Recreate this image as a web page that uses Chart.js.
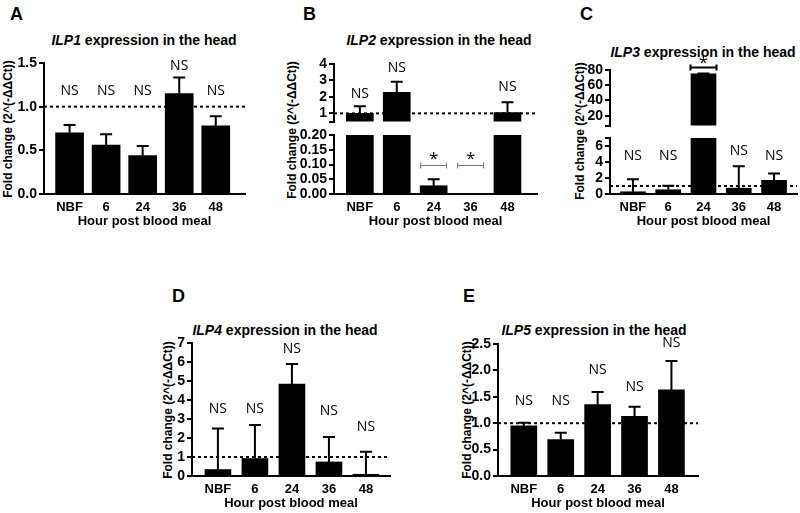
<!DOCTYPE html>
<html>
<head>
<meta charset="utf-8">
<script src="https://cdn.jsdelivr.net/npm/chart.js@4.4.1/dist/chart.umd.min.js"></script>
<style>
  body { margin: 0; background: #fff; }
  #fig { position: relative; width: 800px; height: 513px; overflow: hidden; background: #fff;
         font-family: "Liberation Sans", Arial, sans-serif; color: #000; }
  canvas { position: absolute; }
  .letter { position: absolute; font-size: 18px; font-weight: bold; line-height: 20px; }
  .ttl { position: absolute; width: 300px; text-align: center; font-size: 14px; font-weight: bold;
         line-height: 16px; white-space: nowrap; }
  .ytl { position: absolute; width: 200px; height: 14px; text-align: center; font-size: 12px;
         font-weight: bold; line-height: 14px; white-space: nowrap; transform: rotate(-90deg); }
</style>
</head>
<body>
<div id="fig">
  <div class="letter" style="left:10px;top:4px">A</div>
  <div class="letter" style="left:303px;top:4px">B</div>
  <div class="letter" style="left:580px;top:4px">C</div>
  <div class="letter" style="left:172px;top:286px">D</div>
  <div class="letter" style="left:463px;top:286px">E</div>

  <div class="ttl" style="left:-6px;top:32px"><i>ILP1</i> expression in the head</div>
  <div class="ttl" style="left:289px;top:32px"><i>ILP2</i> expression in the head</div>
  <div class="ttl" style="left:553px;top:44px"><i>ILP3</i> expression in the head</div>
  <div class="ttl" style="left:135px;top:322px"><i>ILP4</i> expression in the head</div>
  <div class="ttl" style="left:444px;top:322px"><i>ILP5</i> expression in the head</div>

  <div class="ytl" style="left:-92px;top:122px">Fold change (2^(-ΔΔCt))</div>
  <div class="ytl" style="left:192px;top:123px">Fold change (2^(-ΔΔCt))</div>
  <div class="ytl" style="left:480px;top:124px">Fold change (2^(-ΔΔCt))</div>
  <div class="ytl" style="left:68px;top:403px">Fold change (2^(-ΔΔCt))</div>
  <div class="ytl" style="left:367px;top:403px">Fold change (2^(-ΔΔCt))</div>

  <canvas id="cA"></canvas>
  <canvas id="cBtop"></canvas>
  <canvas id="cBbot"></canvas>
  <canvas id="cCtop"></canvas>
  <canvas id="cCbot"></canvas>
  <canvas id="cD"></canvas>
  <canvas id="cE"></canvas>
</div>

<script>
Chart.defaults.font.family = '"Liberation Sans", Arial, sans-serif';
Chart.defaults.color = '#000';

// Hours post blood meal
const hours = ['NBF', '6', '24', '36', '48'];

// ILP1
const ilp1Mean = [0.70, 0.56, 0.44, 1.15, 0.78];
const ilp1Sem = [0.09, 0.125, 0.11, 0.185, 0.11];
const ilp1Sig = ['NS', 'NS', 'NS', 'NS', 'NS'];
const ilp1SigY = [1.175, 1.175, 1.175, 1.46, 1.175];
const ilp1Ticks = [0, 0.5, 1, 1.5];
const ilp1TickLabels = ['0.0', '0.5', '1.0', '1.5'];

// ILP2 (broken axis)
const ilp2Mean = [1.0, 2.28, 0.028, 0, 1.05];
const ilp2Sem = [0.44, 0.64, 0.022, 0, 0.62];
const ilp2SigTop = ['NS', 'NS', '', '', 'NS'];
const ilp2SigTopY = [2.17, 3.77, 0, 0, 2.63];
const ilp2SigBot = ['', '', '*', '*', ''];
const ilp2SigBotY = [0, 0, 0.128, 0.128, 0];
const ilp2Brackets = [2, 3];
const ilp2BracketY = 0.098;
const ilp2TicksTop = [0.5, 1, 2, 3, 4];
const ilp2TickLabelsTop = ['', '1', '2', '3', '4'];
const ilp2TicksBot = [0, 0.05, 0.1, 0.15, 0.2];
const ilp2TickLabelsBot = ['0.00', '0.05', '0.10', '0.15', '0.20'];

// ILP3 (broken axis)
const ilp3Mean = [0.28, 0.53, 75, 0.73, 1.71];
const ilp3Sem = [1.56, 0.49, 0.4, 2.73, 0.86];
const ilp3SigTop = ['', '', '*', '', ''];
const ilp3SigTopY = [0, 0, 93.5, 0, 0];
const ilp3Brackets = [2];
const ilp3BracketY = 84.2;
const ilp3SigBot = ['NS', 'NS', '', 'NS', 'NS'];
const ilp3SigBotY = [4.7, 4.7, 0, 5.4, 4.77];
const ilp3TicksTop = [7, 20, 40, 60, 80];
const ilp3TickLabelsTop = ['', '20', '40', '60', '80'];
const ilp3TicksBot = [0, 2, 4, 6, 7];
const ilp3TickLabelsBot = ['0', '2', '4', '6', ''];

// ILP4
const ilp4Mean = [0.34, 0.92, 4.84, 0.74, 0.09];
const ilp4Sem = [2.16, 1.76, 1.06, 1.31, 1.18];
const ilp4Sig = ['NS', 'NS', 'NS', 'NS', 'NS'];
const ilp4SigY = [3.53, 3.53, 6.69, 3.44, 2.59];
const ilp4Ticks = [0, 1, 2, 3, 4, 5, 6, 7];
const ilp4TickLabels = ['0', '1', '2', '3', '4', '5', '6', '7'];

// ILP5
const ilp5Mean = [0.95, 0.69, 1.355, 1.13, 1.63];
const ilp5Sem = [0.06, 0.13, 0.235, 0.18, 0.55];
const ilp5Sig = ['NS', 'NS', 'NS', 'NS', 'NS'];
const ilp5SigY = [1.42, 1.42, 2.0, 1.69, 2.52];
const ilp5Ticks = [0, 0.5, 1, 1.5, 2, 2.5];
const ilp5TickLabels = ['0.0', '0.5', '1.0', '1.5', '2.0', '2.5'];

// dotted reference line, error bars, NS / * labels and brackets
const marksPlugin = {
    id: 'marks',
    beforeDatasetsDraw(chart, args, opts) {
        if (opts.refLine == null) return;
        const {ctx, chartArea: a, scales: {y}} = chart;
        const py = y.getPixelForValue(opts.refLine);
        if (py < a.top || py > a.bottom) return;
        ctx.save();
        ctx.strokeStyle = '#000';
        ctx.lineWidth = 2;
        ctx.setLineDash([3, 3]);
        ctx.beginPath();
        ctx.moveTo(a.left, py);
        ctx.lineTo(a.right, py);
        ctx.stroke();
        ctx.restore();
    },
    afterDatasetsDraw(chart, args, opts) {
        const {ctx, chartArea: a, scales: {x, y}} = chart;
        const data = chart.data.datasets[0].data;

        ctx.save();
        ctx.beginPath();
        ctx.rect(a.left, a.top - 1, a.right - a.left, a.bottom - a.top + 1);
        ctx.clip();
        ctx.strokeStyle = '#000';
        ctx.lineWidth = 2;
        (opts.sem || []).forEach((e, i) => {
            if (!e) return;
            const cx = x.getPixelForValue(i);
            const y0 = y.getPixelForValue(data[i].y);
            const y1 = y.getPixelForValue(data[i].y + e);
            ctx.beginPath();
            ctx.moveTo(cx, y0);
            ctx.lineTo(cx, y1);
            ctx.moveTo(cx - 6, y1);
            ctx.lineTo(cx + 6, y1);
            ctx.stroke();
        });
        ctx.restore();

        ctx.save();
        (opts.brackets || []).forEach(i => {
            const cx = x.getPixelForValue(i);
            const py = Math.round(y.getPixelForValue(opts.bracketY)) + 0.5;
            const hw = opts.bracketHalf;
            ctx.strokeStyle = opts.bracketColor;
            ctx.lineWidth = opts.bracketLine;
            ctx.beginPath();
            ctx.moveTo(cx - hw, py);
            ctx.lineTo(cx + hw, py);
            ctx.moveTo(cx - hw, py - 3);
            ctx.lineTo(cx - hw, py + 3);
            ctx.moveTo(cx + hw, py - 3);
            ctx.lineTo(cx + hw, py + 3);
            ctx.stroke();
        });
        ctx.fillStyle = '#000';
        ctx.textAlign = 'center';
        ctx.textBaseline = 'middle';
        (opts.sig || []).forEach((s, i) => {
            if (!s) return;
            ctx.font = s === '*' ? '17px "Open Sans"' : '14px "Open Sans"';
            const dy = s === '*' ? 3 : 0;
            ctx.fillText(s, x.getPixelForValue(i), y.getPixelForValue(opts.sigY[i]) + dy);
        });
        ctx.restore();
    }
};

const xTickFont = {size: 13, weight: 'bold'};
const yTickFont = {size: 14, weight: 'bold'};

function makePanel(id, p) {
    const cv = document.getElementById(id);
    cv.width = p.box[2];
    cv.height = p.box[3];
    cv.style.left = p.box[0] + 'px';
    cv.style.top = p.box[1] + 'px';
    return new Chart(cv, {
        type: 'bar',
        data: {
            datasets: [{
                data: p.mean.map((v, i) => ({x: i, y: v})),
                backgroundColor: '#000',
                borderWidth: 0,
                barThickness: p.barWidth,
                clip: 0
            }]
        },
        options: {
            responsive: false,
            animation: false,
            devicePixelRatio: 1,
            layout: {padding: {top: 20, right: 2, bottom: p.showX ? 0 : 8, left: 0}},
            plugins: {
                legend: {display: false},
                tooltip: {enabled: false},
                marks: {
                    sem: p.sem,
                    sig: p.sig,
                    sigY: p.sigY,
                    refLine: p.refLine,
                    brackets: p.brackets,
                    bracketY: p.bracketY,
                    bracketHalf: p.bracketHalf || 13,
                    bracketColor: p.bracketColor || '#000',
                    bracketLine: p.bracketLine || 1
                }
            },
            scales: {
                x: {
                    type: 'linear',
                    display: p.showX,
                    offset: false,
                    min: p.xRange[0],
                    max: p.xRange[1],
                    afterBuildTicks: s => { s.ticks = hours.map((h, i) => ({value: i})); },
                    afterFit: s => { s.height = p.showX ? 35 : 0; },
                    ticks: {
                        callback: v => hours[v],
                        font: xTickFont,
                        color: '#000',
                        padding: 6,
                        autoSkip: false,
                        maxRotation: 0
                    },
                    grid: {display: false, drawTicks: false},
                    border: {display: true, color: '#000', width: 2},
                    title: {
                        display: true,
                        text: 'Hour post blood meal',
                        font: {size: 13, weight: 'bold'},
                        color: '#000',
                        padding: 0
                    }
                },
                y: {
                    min: p.yRange[0],
                    max: p.yRange[1],
                    afterBuildTicks: s => { s.ticks = p.ticks.map(v => ({value: v})); },
                    afterFit: s => { s.width = 40; },
                    ticks: {
                        callback: (v, i) => p.tickLabels[i],
                        font: yTickFont,
                        color: '#000',
                        padding: 2,
                        autoSkip: false
                    },
                    grid: {display: true, drawOnChartArea: false, drawTicks: true, tickLength: 5,
                           color: '#000', lineWidth: 2},
                    border: {display: true, color: '#000', width: 2}
                }
            }
        },
        plugins: [marksPlugin]
    });
}

// A
makePanel('cA', {
    box: [4, 43, 243, 186], showX: true, xRange: [-0.7, 4.8], yRange: [0, 1.5], barWidth: 28,
    mean: ilp1Mean, sem: ilp1Sem, sig: ilp1Sig, sigY: ilp1SigY, refLine: 1,
    ticks: ilp1Ticks, tickLabels: ilp1TickLabels
});

// B
makePanel('cBtop', {
    box: [294, 44, 245, 88], showX: false, xRange: [-0.7, 4.8], yRange: [0.5, 4], barWidth: 27,
    mean: ilp2Mean, sem: ilp2Sem, sig: ilp2SigTop, sigY: ilp2SigTopY, refLine: 1,
    ticks: ilp2TicksTop, tickLabels: ilp2TickLabelsTop
});
makePanel('cBbot', {
    box: [294, 115, 245, 114], showX: true, xRange: [-0.7, 4.8], yRange: [0, 0.2], barWidth: 27,
    mean: ilp2Mean, sem: ilp2Sem, sig: ilp2SigBot, sigY: ilp2SigBotY,
    brackets: ilp2Brackets, bracketY: ilp2BracketY, bracketColor: '#777', bracketLine: 1,
    ticks: ilp2TicksBot, tickLabels: ilp2TickLabelsBot
});

// C
makePanel('cCtop', {
    box: [570, 50, 229, 86], showX: false, xRange: [-0.65, 4.65], yRange: [7, 80], barWidth: 25,
    mean: ilp3Mean, sem: ilp3Sem, sig: ilp3SigTop, sigY: ilp3SigTopY,
    brackets: ilp3Brackets, bracketY: ilp3BracketY, bracketColor: '#000', bracketLine: 2,
    ticks: ilp3TicksTop, tickLabels: ilp3TickLabelsTop
});
makePanel('cCbot', {
    box: [570, 118, 229, 111], showX: true, xRange: [-0.65, 4.65], yRange: [0, 7], barWidth: 25,
    mean: ilp3Mean, sem: ilp3Sem, sig: ilp3SigBot, sigY: ilp3SigBotY, refLine: 1,
    ticks: ilp3TicksBot, tickLabels: ilp3TickLabelsBot
});

// D
makePanel('cD', {
    box: [152, 323, 240, 188], showX: true, xRange: [-0.7, 4.65], yRange: [0, 7], barWidth: 26,
    mean: ilp4Mean, sem: ilp4Sem, sig: ilp4Sig, sigY: ilp4SigY, refLine: 1,
    ticks: ilp4Ticks, tickLabels: ilp4TickLabels
});

// E
makePanel('cE', {
    box: [458, 324, 242, 187], showX: true, xRange: [-0.7, 4.72], yRange: [0, 2.5], barWidth: 26,
    mean: ilp5Mean, sem: ilp5Sem, sig: ilp5Sig, sigY: ilp5SigY, refLine: 1,
    ticks: ilp5Ticks, tickLabels: ilp5TickLabels
});
</script>
</body>
</html>
